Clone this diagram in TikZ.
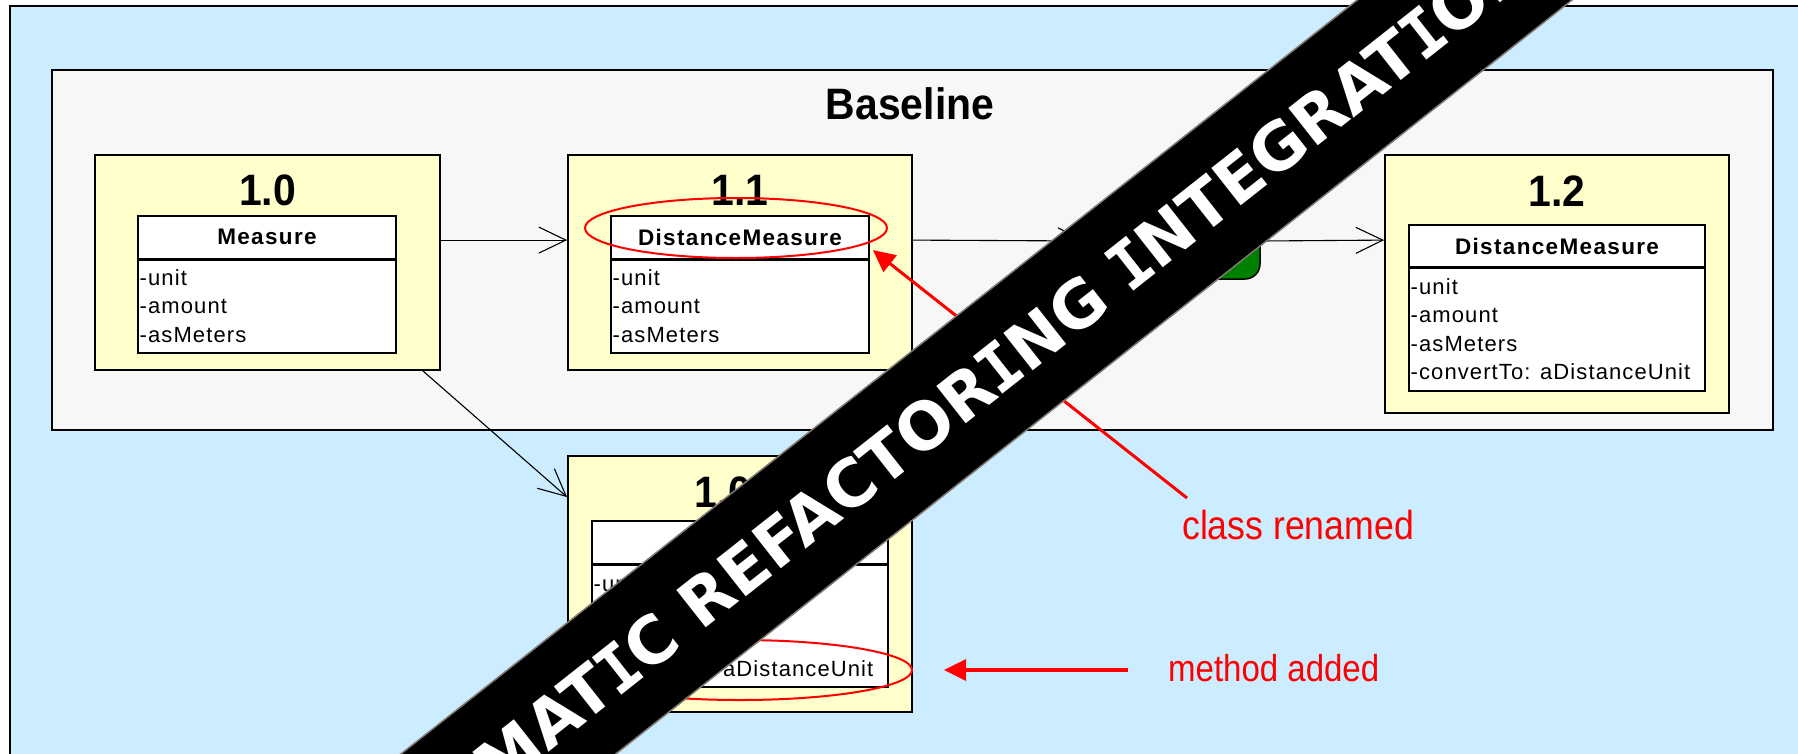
\documentclass[tikz,border=0pt]{standalone}
\usepackage{fontspec}
\setmainfont{Liberation Sans}
\newfontfamily\basefnt[FakeStretch=0.93]{Liberation Sans}
\newfontfamily\annofnt[FakeStretch=0.88]{Liberation Sans}
\newfontfamily\clsfnt[LetterSpace=5]{Liberation Sans}
\newfontfamily\clshfnt[LetterSpace=6]{Liberation Sans}
\newfontfamily\bannerfnt{DejaVu Sans}
\newfontfamily\bannermono{DejaVu Sans Mono}
\newcommand\sI{{\bannermono\bfseries\kern-0.0285em I\kern-0.0285em}}
\usetikzlibrary{arrows.meta,shapes.geometric}
\definecolor{outerbg}{HTML}{CCECFF}
\definecolor{basebg}{HTML}{F7F7F7}
\definecolor{verbg}{HTML}{FFFFCC}
\definecolor{redc}{HTML}{FF0000}
\definecolor{greenc}{HTML}{008000}
\definecolor{bandedge}{HTML}{807870}
\begin{document}
\begin{tikzpicture}[x=1pt,y=-1pt,
  outerbox/.style={fill=outerbg, draw=black, line width=2.5pt},
  basebox/.style={fill=basebg, draw=black, line width=2pt, inner sep=0pt},
  verbox/.style={fill=verbg, draw=black, line width=1.8pt, inner sep=0pt},
  clsbox/.style={fill=white, draw=black, line width=1.8pt, inner sep=0pt},
  divline/.style={draw=black, line width=3pt},
  vertitle/.style={font=\basefnt\fontsize{44}{48}\selectfont\bfseries, inner sep=0pt},
  basetitle/.style={font=\basefnt\fontsize{44}{48}\selectfont\bfseries, inner sep=0pt},
  hdr/.style={font=\clshfnt\fontsize{22.5}{26}\selectfont\bfseries, inner sep=0pt},
  attr/.style={font=\clsfnt\fontsize{22}{25}\selectfont, inner sep=0pt, anchor=base west},
  conn/.style={draw=black, line width=1.1pt, -{Straight Barb[length=27pt,width=26pt]}},
  redarrow/.style={draw=redc, line width=3pt, -{Triangle[length=22pt,width=21pt]}},
  redring/.style={ellipse, draw=redc, line width=2pt, inner sep=0pt},
  annot/.style={font=\annofnt\fontsize{40.5}{44}\selectfont, text=redc, inner sep=0pt, anchor=west},
  banner/.style={fill=black, draw=bandedge, line width=1.5pt, text=white, inner sep=0pt,
    font=\bannerfnt\fontsize{65.2}{70}\selectfont\bfseries}
]
\useasboundingbox (0,0) rectangle (1798,753);
\clip (0,0) rectangle (1798,753);
\fill[white] (0,0) rectangle (1798,753);
\path[outerbox] (10,6) rectangle (1830,790);

% Baseline
\node[basebox, minimum width=1721pt, minimum height=360pt] (baseline) at (912.5,250) {};
\node[basetitle] (basetitle) at (910,104) {Baseline};

% version boxes
\node[verbox, minimum width=345pt, minimum height=215pt] (v10) at (267.5,262.5) {};
\node[verbox, minimum width=344pt, minimum height=215pt] (v11) at (740,262.5) {};
\node[verbox, minimum width=344pt, minimum height=258pt] (v12) at (1557,284) {};
\node[verbox, minimum width=344pt, minimum height=256pt] (v101) at (740,584) {};

\node[vertitle] (t10) at (267.5,190) {1.0};
\node[vertitle] (t11) at (740,190) {1.1};
\node[vertitle] (t12) at (1557,191) {1.2};
\node[vertitle] (t101) at (740,492) {1.0.1};

% class boxes
\node[clsbox, minimum width=258pt, minimum height=137pt] (c10) at (267,284.5) {};
\node[clsbox, minimum width=258pt, minimum height=137pt] (c11) at (740,284.5) {};
\node[clsbox, minimum width=296pt, minimum height=166pt] (c12) at (1557,308) {};
\node[clsbox, minimum width=296pt, minimum height=166pt] (c101) at (740,604) {};

\draw[divline] ([yshift=-44pt]c10.north west) -- ([yshift=-44pt]c10.north east);
\draw[divline] ([yshift=-44pt]c11.north west) -- ([yshift=-44pt]c11.north east);
\draw[divline] ([yshift=-43pt]c12.north west) -- ([yshift=-43pt]c12.north east);
\draw[divline] ([yshift=-44pt]c101.north west) -- ([yshift=-44pt]c101.north east);

\node[hdr] (h10) at (267,237) {Measure};
\node[hdr] (h11) at (740,237) {DistanceMeasure};
\node[hdr] (h12) at (1557,246) {DistanceMeasure};
\node[hdr] (h101) at (740,543) {Measure};

\foreach \t [count=\i from 0] in {-unit,-amount,-asMeters}
  \node[attr] (a10-\i) at (139.5,285+28.5*\i) {\t};
\foreach \t [count=\i from 0] in {-unit,-amount,-asMeters}
  \node[attr] (a11-\i) at (612.5,285+28.5*\i) {\t};
\foreach \t [count=\i from 0] in {-unit,-amount,-asMeters,-convertTo: aDistanceUnit}
  \node[attr] (a12-\i) at (1410.5,294+28.5*\i) {\t};
\foreach \t [count=\i from 0] in {-unit,-amount,-asMeters,-convertTo: aDistanceUnit}
  \node[attr] (a101-\i) at (593.5,591+28.5*\i) {\t};

% hidden middle element
\node[draw=black, fill=greenc, rounded corners=15pt, minimum width=173pt, minimum height=72pt,
  line width=1.5pt, inner sep=0pt] (gbox) at (1173.5,243) {};

% connectors
\draw[conn] ([yshift=-86pt]v10.north east) -- ([yshift=-86pt]v11.north west);
\draw[conn] ([yshift=-86pt]v11.north east) -- ([yshift=2pt]gbox.west);
\draw[conn] ([yshift=2pt]gbox.east) -- ([yshift=-86pt]v12.north west);
\draw[conn] ([xshift=-18pt]v10.south east) -- ([yshift=-42pt]v101.north west);

% red annotations
\node[redring, minimum width=302pt, minimum height=60pt] (e11) at (736,228) {};
\node[redring, minimum width=344pt, minimum height=60pt] (e101) at (740,670) {};
\coordinate (crEnd) at (1187,498);
\draw[redarrow] (crEnd) -- ([xshift=3pt,yshift=-35pt]c11.north east);
\node[annot] (crText) at (1182,525) {class renamed};
\coordinate (maStart) at (1128,670);
\draw[redarrow, line width=3.5pt] (maStart) -- ([xshift=31pt]e101.east);
\node[annot, font=\annofnt\fontsize{37.5}{40}\selectfont] (maText) at (1168,668.5) {method added};

% banner
\node[banner, rotate=38.25, minimum width=2600pt, minimum height=133pt] (band) at (923.8,426.4)
  {AUTOMAT\sI C REFACTOR\sI NG \sI NTEGRAT\sI ON};
\end{tikzpicture}
\end{document}
